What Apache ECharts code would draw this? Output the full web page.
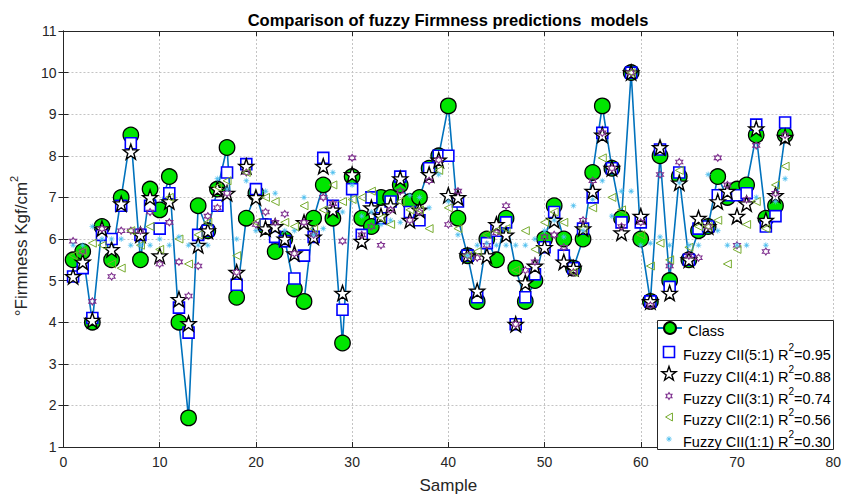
<!DOCTYPE html>
<html><head><meta charset="utf-8">
<script src="https://cdn.jsdelivr.net/npm/echarts@6/dist/echarts.min.js"></script>
<style>html,body{margin:0;padding:0;background:#fff}#c{width:844px;height:499px}</style>
</head><body><div id="c"></div>
<script>
const samples = [1,2,3,4,5,6,7,8,9,10,11,12,13,14,15,16,17,18,19,20,21,22,23,24,25,26,27,28,29,30,31,32,33,34,35,36,37,38,39,40,41,42,43,44,45,46,47,48,49,50,51,52,53,54,55,56,57,58,59,60,61,62,63,64,65,66,67,68,69,70,71,72,73,74,75];
const classVals = [5.5,5.7,4.0,6.3,5.5,7.0,8.5,5.5,7.2,6.7, 7.5,4.0,1.7,6.8,6.2,7.2,8.2,4.6,6.5,7.1, 6.3,5.7,6.0,4.8,4.5,6.5,7.3,6.5,3.5,7.5, 6.5,6.3,7.0,7.0,7.3,6.9,7.0,7.7,8.0,9.2, 6.5,5.6,4.5,6.0,5.5,6.5,5.3,4.5,5.0,6.0, 6.8,6.0,5.3,6.0,7.6,9.2,7.7,6.5,10.0,6.0, 4.5,8.0,5.0,7.5,5.5,6.2,6.3,7.5,7.0,7.2, 7.3,8.5,6.5,6.8,8.5];
const fuzzy51 = [5.1,5.3,4.1,6.1,6.0,6.8,8.3,6.1,6.8,6.25, 7.1,4.35,3.75,6.1,6.2,6.8,7.6,4.9,7.8,7.2, 6.35,6.05,5.95,5.05,5.6,6.05,7.95,6.8,4.3,7.2, 6.1,7.0,6.5,6.9,7.5,6.65,6.45,7.7,8.0,8.0, 6.9,5.6,4.6,5.9,6.2,6.4,3.95,4.6,5.15,5.8, 6.65,5.6,5.3,6.25,7.0,8.55,7.7,6.4,10.0,6.4, 4.5,8.15,4.85,7.6,5.5,6.25,6.3,7.05,7.05,7.05, 7.1,8.75,6.3,6.55,8.8];
const fuzzy41 = [5.1,5.45,4.05,6.25,5.75,6.85,8.1,6.1,7.0,5.6, 6.9,4.55,3.97,5.85,6.2,7.2,7.1,5.2,7.75,7.0, 6.25,6.3,6.0,5.65,6.4,6.05,7.75,6.7,4.7,7.55, 5.95,6.75,6.55,6.8,7.45,6.45,6.7,7.55,7.9,7.05, 7.0,5.6,4.75,5.6,6.35,6.1,3.95,4.95,5.35,5.8, 6.45,5.45,5.3,6.25,7.15,8.5,7.7,6.15,10.0,6.55, 4.5,8.2,4.7,7.35,5.5,6.5,6.3,6.9,7.15,6.55, 6.85,8.65,6.45,7.05,8.45];
const fuzzy31 = [5.95,5.7,4.5,6.25,5.1,6.2,6.2,6.2,6.65,5.4, 6.4,5.45,4.63,5.35,6.55,6.75,7.1,5.2,7.6,6.35, 6.65,6.4,6.6,5.65,6.4,6.1,7.0,6.85,5.95,7.95, 6.1,6.3,5.85,6.7,7.15,6.45,6.65,7.4,7.9,6.35, 7.15,5.6,5.55,5.85,6.15,6.8,3.95,5.25,5.45,6.05, 6.1,5.8,5.2,6.45,7.4,8.55,7.7,6.3,10.0,6.4, 4.4,7.55,5.35,7.85,5.6,5.55,6.3,7.95,7.3,5.85, 6.95,8.25,5.7,7.1,8.5];
const fuzzy21 = [5.6,5.7,5.9,5.85,5.4,5.3,6.2,5.85,6.3,5.75, 7.0,6.0,5.4,6.1,6.4,7.25,7.4,5.6,7.6,6.4, 7.0,6.9,6.4,6.3,6.8,6.25,6.7,7.3,6.9,6.95, 7.0,7.15,6.5,6.35,6.9,6.7,6.7,6.25,7.65,6.75, 6.25,5.6,5.7,6.1,6.2,6.25,5.25,6.2,5.75,6.4, 6.65,6.4,5.2,6.25,6.75,7.95,7.0,6.7,10.0,6.1, 5.35,5.9,5.5,7.65,5.8,6.3,6.3,6.45,5.4,5.75, 6.35,6.9,6.25,7.3,7.75];
const fuzzy11 = [5.85,5.85,6.3,6.0,6.0,6.0,5.85,5.85,5.85,6.0, 5.85,6.05,5.85,5.85,5.85,7.45,7.2,6.0,7.4,6.2, 7.15,7.1,6.2,6.2,7.0,6.1,6.25,7.6,6.65,7.3, 6.55,6.65,6.35,6.45,6.4,7.05,7.0,6.75,7.55,6.9, 6.1,5.6,5.85,5.9,5.85,5.85,5.85,5.85,6.0,6.2, 6.45,6.05,6.8,6.2,6.95,7.4,6.55,7.15,7.15,5.85, 5.9,6.05,5.85,7.35,5.85,5.85,7.55,6.2,5.85,5.85, 5.85,7.0,5.85,6.9,7.45];
const seriesNames = ['Class','Fuzzy CII(5:1)','Fuzzy CII(4:1)','Fuzzy CII(3:1)','Fuzzy CII(2:1)','Fuzzy CII(1:1)'];
const r2Labels = ['', '0.95', '0.88', '0.74', '0.56', '0.30'];
const xTicks = [0,10,20,30,40,50,60,70,80];
const yTicks = [1,2,3,4,5,6,7,8,9,10,11];

// marker geometry in a unit box 0..100
function starPts(n, R, r) {
  const p = [];
  for (let k = 0; k < 2 * n; k++) {
    const a = -Math.PI / 2 + k * Math.PI / n;
    const rad = (k % 2 === 0) ? R : r;
    p.push([50 + rad * Math.cos(a), 50 + rad * Math.sin(a)]);
  }
  return p;
}
const P_PENTA = starPts(5, 50, 20);
const P_HEXA = starPts(6, 50, 29);
const P_ASTER = starPts(8, 50, 14);
const P_TRI = [[7, 50], [93, 0], [93, 100]];
const P_SQ = [[0, 0], [100, 0], [100, 100], [0, 100]];
const placePts = (p, cx, cy, s) => p.map(q => [cx + (q[0] - 50) * s / 100, cy + (q[1] - 50) * s / 100]);
const sym = p => 'path://' + p.map((q, k) => (k === 0 ? 'M' : 'L') + q[0].toFixed(2) + ' ' + q[1].toFixed(2)).join(' ') + ' Z';

const pts = vals => vals.map((v, i) => [samples[i], v]);
const FONT = 'Liberation Sans, Arial, sans-serif';

// marker styles (shared by series and legend keys)
const STY = [
  null,
  {geom: P_SQ, size: 11, fill: '#fff', stroke: '#0000ff', lw: 1.6},
  {geom: P_PENTA, size: 15, fill: '#fff', stroke: '#000', lw: 1.4},
  {geom: P_HEXA, size: 7, fill: 'none', stroke: '#7E2F8E', lw: 1.1},
  {geom: P_TRI, size: 8, fill: 'none', stroke: '#77AC30', lw: 1},
  {geom: P_ASTER, size: 6, fill: '#4DBEEE', stroke: '#4DBEEE', lw: 0.3}
];

const chart = echarts.init(document.getElementById('c'), null, {renderer: 'svg'});

const LEG_X = 669, LEG_TEXT_X = 683;
const legendRows = [331, 352, 374, 396, 417, 439];
const richLeg = {
  a: {fontFamily: FONT, fontSize: 14.5, fill: '#000', color: '#000', lineHeight: 20, verticalAlign: 'bottom'},
  s: {fontFamily: FONT, fontSize: 10, fill: '#000', color: '#000', lineHeight: 20, verticalAlign: 'top'}
};

const legendClass = {
  data: [seriesNames[0]],
  orient: 'vertical',
  left: 657, top: legendRows[0] - 10,
  itemWidth: 24, itemHeight: 15,
  padding: 0, selectedMode: false, z: 6,
  formatter: n => '{a|' + n + '}',
  textStyle: {fontFamily: FONT, fontSize: 14.5, color: '#000', padding: [0, 0, 0, 1], rich: richLeg}
};

const legendKeys = legendRows.slice(1).map((cy, j) => {
  const st = STY[j + 1];
  return {
    type: 'polygon', z: 7, silent: true,
    shape: {points: placePts(st.geom, LEG_X, cy, st.size)},
    style: {fill: st.fill === 'none' ? 'rgba(0,0,0,0)' : st.fill, stroke: st.stroke, lineWidth: st.lw}
  };
});
const legendTexts = legendRows.slice(1).map((cy, j) => ({
  type: 'text', z: 7, silent: true, x: LEG_TEXT_X, y: cy,
  style: {
    text: '{a|' + seriesNames[j + 1] + ' R}{s|2}{a|=' + r2Labels[j + 1] + '}',
    rich: richLeg, align: 'left', verticalAlign: 'middle',
    font: '14.5px ' + FONT, fill: '#000'
  }
}));

const gridLine = {show: true, lineStyle: {color: '#c4c4c4', type: [2, 2], width: 1}};
const tickIn = {show: true, inside: true, length: 5, lineStyle: {color: '#262626'}};
const axLine = {show: true, lineStyle: {color: '#262626', width: 1}};

function scatterSeries(k, vals) {
  const st = STY[k];
  return {
    name: seriesNames[k], type: 'scatter', data: pts(vals),
    symbol: k === 1 ? 'rect' : sym(st.geom), symbolSize: st.size,
    itemStyle: {color: st.fill === 'none' ? 'rgba(0,0,0,0)' : st.fill, borderColor: st.stroke, borderWidth: st.lw, opacity: 1},
    z: 2
  };
}

chart.setOption({
  animation: false,
  backgroundColor: '#fff',
  grid: {left: 60, right: 9, top: 31, bottom: 49, containLabel: false},
  legend: [legendClass],
  graphic: [{
    type: 'rect', left: 657, top: 320, z: 5,
    shape: {width: 176, height: 129},
    style: {fill: '#fff', stroke: '#262626', lineWidth: 1}
  }, {
    type: 'text', x: 448, y: 20, z: 6,
    style: {
      text: 'Comparison of fuzzy Firmness predictions  models',
      align: 'center', verticalAlign: 'middle',
      font: 'bold 16.5px Liberation Sans, Arial, sans-serif', fill: '#000'
    }
  }].concat(legendKeys, legendTexts),
  xAxis: [{
    type: 'value', min: 0, max: 80, interval: 10,
    name: 'Sample', nameLocation: 'middle', nameGap: 30,
    nameTextStyle: {fontFamily: FONT, fontSize: 17, color: '#262626'},
    axisLabel: {fontFamily: FONT, fontSize: 14, color: '#262626', margin: 8,
      formatter: v => xTicks.includes(v) ? String(v) : ''},
    axisLine: axLine, axisTick: tickIn, splitLine: gridLine
  }, {
    type: 'value', min: 0, max: 80, interval: 10, position: 'top',
    axisLabel: {show: false}, axisLine: axLine, axisTick: tickIn, splitLine: {show: false}
  }],
  yAxis: [{
    type: 'value', min: 1, max: 11, interval: 1,
    name: '{a|°Firmness Kgf/cm}{s|2}', nameLocation: 'middle', nameGap: 22,
    nameTextStyle: {
      fontFamily: FONT, fontSize: 17, color: '#262626', padding: [0, 14, 0, 0],
      rich: {
        a: {fontFamily: FONT, fontSize: 17, color: '#262626', lineHeight: 22, verticalAlign: 'bottom'},
        s: {fontFamily: FONT, fontSize: 11, color: '#262626', lineHeight: 22, verticalAlign: 'top'}
      }
    },
    axisLabel: {fontFamily: FONT, fontSize: 14, color: '#262626', margin: 7,
      formatter: v => yTicks.includes(v) ? String(v) : ''},
    axisLine: axLine, axisTick: tickIn, splitLine: gridLine
  }, {
    type: 'value', min: 1, max: 11, interval: 1, position: 'right',
    axisLabel: {show: false}, axisLine: axLine, axisTick: tickIn, splitLine: {show: false}
  }],
  series: [
    {
      name: seriesNames[0], type: 'line', data: pts(classVals),
      symbol: 'circle', symbolSize: 15.5, showAllSymbol: true,
      lineStyle: {color: '#0072BD', width: 1.6},
      itemStyle: {color: '#00e600', borderColor: '#000', borderWidth: 1.3},
      z: 2
    },
    scatterSeries(1, fuzzy51),
    scatterSeries(2, fuzzy41),
    scatterSeries(3, fuzzy31),
    scatterSeries(4, fuzzy21),
    scatterSeries(5, fuzzy11)
  ]
});
</script>
</body></html>
